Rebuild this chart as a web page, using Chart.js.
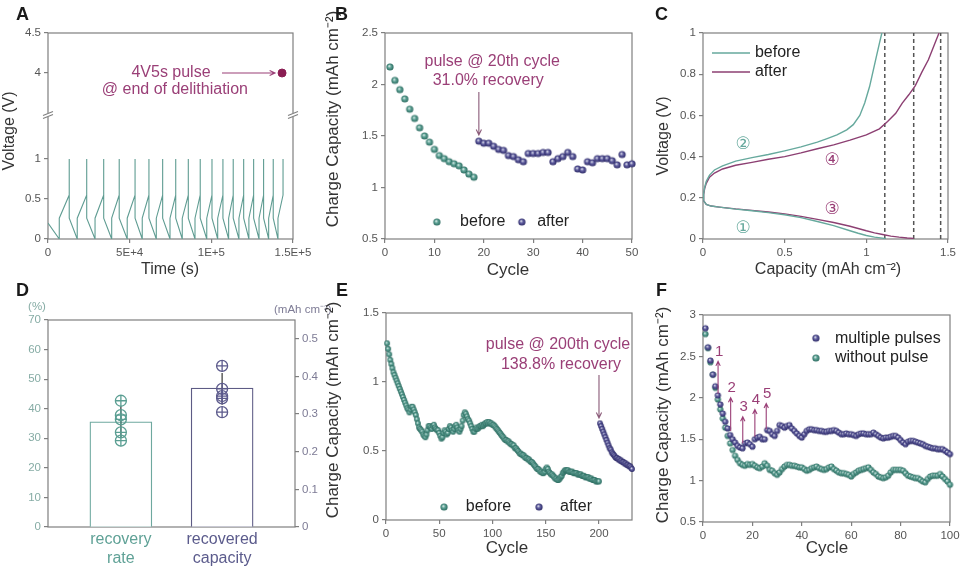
<!DOCTYPE html>
<html><head><meta charset="utf-8">
<script src="https://cdn.jsdelivr.net/npm/chart.js@4.4.1/dist/chart.umd.min.js"></script>
<style>
html,body{margin:0;padding:0;background:#fff;}
#wrap{position:relative;width:960px;height:567px;overflow:hidden;background:#fff;}
canvas{position:absolute;}
.lbl{position:absolute;font-family:'Liberation Sans Narrow','Arial Narrow','Liberation Sans',sans-serif;font-weight:bold;font-size:18px;line-height:18px;color:#1a1a1a;}
</style></head><body>
<div id="wrap">
<canvas id="cA" width="320" height="290" style="left:0;top:0"></canvas>
<canvas id="cB" width="320" height="290" style="left:320px;top:0"></canvas>
<canvas id="cC" width="320" height="290" style="left:640px;top:0"></canvas>
<canvas id="cD" width="345" height="277" style="left:0;top:290px"></canvas>
<canvas id="cE" width="320" height="277" style="left:320px;top:290px"></canvas>
<canvas id="cF" width="320" height="277" style="left:640px;top:290px"></canvas>
<div class="lbl" style="left:16px;top:5px">A</div>
<div class="lbl" style="left:335px;top:5px">B</div>
<div class="lbl" style="left:655px;top:5px">C</div>
<div class="lbl" style="left:16px;top:281px">D</div>
<div class="lbl" style="left:336px;top:281px">E</div>
<div class="lbl" style="left:656px;top:281px">F</div>
</div>
<script>
// ---------------- DATA ----------------
// Panel A: voltage trace (time s, voltage V)
const aTime = [0,
 6900,6900,13000,13000,13000,
 17900,17900,23700,23700,23700,
 28800,28800,34100,34100,34100,
 39000,39000,43600,43600,43600,
 48500,48500,53300,53300,53300,
 57700,57700,61800,61800,61800,
 66300,66300,70200,70200,70200,
 74700,74700,78200,78200,78200,
 82200,82200,85900,85900,85900,
 90000,90000,93200,93200,93200,
 97200,97200,100400,100400,100400,
 103900,103900,107100,107100,107100,
 110600,110600,113400,113400,113400,
 116900,116900,119800,119800,119800,
 123000,123000,125900,125900,125900,
 129200,129200,132000,132000,132000,
 135100,135100,137900,137900,137900,
 140800,140800,143900,143900];
const aVolt = [0.2,
 0,0.26,0.55,1,0.26,
 0,0.26,0.55,1,0.26,
 0,0.26,0.55,1,0.26,
 0,0.26,0.55,1,0.26,
 0,0.26,0.55,1,0.26,
 0,0.26,0.55,1,0.26,
 0,0.26,0.55,1,0.26,
 0,0.26,0.55,1,0.26,
 0,0.26,0.55,1,0.26,
 0,0.26,0.55,1,0.26,
 0,0.26,0.55,1,0.26,
 0,0.26,0.55,1,0.26,
 0,0.26,0.55,1,0.26,
 0,0.26,0.55,1,0.26,
 0,0.26,0.55,1,0.26,
 0,0.26,0.55,1,0.26,
 0,0.26,0.55,1,0.26,
 0,0.26,0.55,1];
const aPulseTime = 143300, aPulseVolt = 4;
const aXTicks = [0,50000,100000,150000];
const aXTickLabels = ['0','5E+4','1E+5','1.5E+5'];
const aYTicks = [0,0.5,1,4,4.5];

// Panel B: charge capacity vs cycle
const bBefore = [2.17,2.04,1.95,1.86,1.76,1.67,1.58,1.50,1.44,1.37,1.31,1.28,1.25,1.23,1.21,1.17,1.13,1.10]; // cycles 1-18
const bAfter = [1.45,1.43,1.43,1.40,1.37,1.36,1.31,1.30,1.27,1.25,
 1.33,1.33,1.33,1.34,1.34,1.25,1.28,1.30,1.34,1.30,
 1.18,1.17,1.25,1.24,1.28,1.28,1.28,1.26,1.22,1.32,
 1.22,1.23]; // cycles 19-50
const bXTicks = [0,10,20,30,40,50];
const bYTicks = [0.5,1,1.5,2,2.5];

// Panel C: voltage profiles
const cBefDelCap = [0,0.004,0.01,0.02,0.04,0.07,0.12,0.2,0.3,0.4,0.5,0.6,0.7,0.76,0.82,0.88,0.92,0.96,0.99,1.02,1.04,1.06,1.08,1.095];
const cBefDelV   = [0.19,0.22,0.25,0.28,0.31,0.335,0.355,0.378,0.395,0.41,0.428,0.447,0.47,0.487,0.505,0.53,0.555,0.6,0.66,0.74,0.81,0.88,0.95,1.0];
const cAftDelCap = [0,0.004,0.01,0.02,0.04,0.07,0.12,0.2,0.3,0.4,0.5,0.6,0.7,0.8,0.9,1.0,1.08,1.13,1.18,1.22,1.26,1.3,1.34,1.38,1.42,1.445];
const cAftDelV   = [0.19,0.215,0.245,0.27,0.30,0.32,0.34,0.358,0.372,0.387,0.40,0.418,0.438,0.457,0.48,0.505,0.535,0.57,0.61,0.66,0.70,0.745,0.81,0.87,0.95,1.0];
const cBefLitCap = [0,0.02,0.05,0.1,0.2,0.3,0.4,0.5,0.6,0.7,0.8,0.9,0.95,1.0,1.05,1.1,1.12];
const cBefLitV   = [0.19,0.168,0.16,0.155,0.145,0.137,0.128,0.118,0.104,0.085,0.065,0.04,0.028,0.017,0.009,0.004,0.002];
const cAftLitCap = [0,0.02,0.05,0.1,0.2,0.3,0.4,0.5,0.6,0.7,0.8,0.9,1.0,1.05,1.1,1.15,1.2,1.25,1.29];
const cAftLitV   = [0.19,0.168,0.16,0.155,0.146,0.139,0.131,0.122,0.11,0.095,0.08,0.062,0.04,0.03,0.022,0.014,0.009,0.005,0.003];
const cDashCap = [1.113,1.29,1.455];
const cXTicks = [0,0.5,1,1.5];
const cYTicks = [0,0.2,0.4,0.6,0.8,1];

// Panel D: bars
const dCats = [['recovery','rate'],['recovered','capacity']];
const dMeans = [35.6, 0.369];
const dErrLow = [30.2, 0.325];
const dErrHigh = [40.8, 0.409];
const dRatePts = [42.7,37.8,36.4,32.0,29.2];
const dCapPts = [0.428,0.367,0.348,0.342,0.305];
const dYTicks = [0,10,20,30,40,50,60,70];
const dY2Ticks = [0,0.1,0.2,0.3,0.4,0.5];

// Panel E
const eBefore = [
1.28,1.24,1.20,1.16,1.13,1.10,1.07,1.05,1.03,1.01,
0.99,0.97,0.95,0.93,0.91,0.89,0.87,0.85,0.83,0.81,
0.80,0.78,0.80,0.82,0.82,0.80,0.78,0.76,0.73,0.70,
0.67,0.66,0.65,0.64,0.62,0.61,0.60,0.62,0.65,0.68,
0.68,0.67,0.66,0.68,0.69,0.67,0.66,0.65,0.65,0.63,
0.61,0.59,0.60,0.63,0.65,0.64,0.62,0.63,0.66,0.68,
0.67,0.65,0.64,0.66,0.68,0.69,0.67,0.65,0.64,0.66,
0.68,0.72,0.76,0.78,0.77,0.75,0.73,0.72,0.70,0.68,
0.66,0.64,0.64,0.66,0.67,0.66,0.67,0.68,0.68,0.69,
0.68,0.69,0.70,0.70,0.71,0.70,0.71,0.70,0.70,0.69,
0.69,0.68,0.67,0.66,0.65,0.64,0.63,0.62,0.61,0.60,
0.59,0.58,0.58,0.57,0.57,0.56,0.55,0.55,0.54,0.54,
0.52,0.52,0.51,0.50,0.49,0.48,0.48,0.47,0.47,0.46,
0.45,0.45,0.44,0.44,0.43,0.42,0.42,0.41,0.40,0.39,
0.38,0.37,0.37,0.36,0.35,0.35,0.34,0.34,0.35,0.37,
0.38,0.37,0.35,0.34,0.33,0.33,0.32,0.31,0.30,0.30,
0.29,0.29,0.30,0.31,0.32,0.34,0.35,0.36,0.36,0.36,
0.36,0.35,0.35,0.35,0.35,0.34,0.34,0.34,0.34,0.33,
0.33,0.33,0.33,0.32,0.32,0.32,0.31,0.31,0.31,0.31,
0.30,0.30,0.30,0.29,0.29,0.29,0.28,0.28,0.28,0.28]; // cycles 1-200
const eAfterStart = 201;
const eAfter = [0.70,0.68,0.66,0.64,0.62,0.60,0.58,0.56,0.54,0.52,0.51,0.49,0.48,0.47,0.46,0.45,0.45,0.44,0.44,0.43,0.43,0.42,0.42,0.41,0.41,0.40,0.40,0.39,0.39,0.38,0.37];
const eXTicks = [0,50,100,150,200];
const eYTicks = [0,0.5,1,1.5];

// Panel F
const fMulti = [2.84,2.61,2.45,2.28,2.14,2.03,1.92,1.81,1.71,1.63,
1.55,1.50,1.46,1.42,1.40,1.39,1.45,1.46,1.44,1.41,
1.50,1.52,1.53,1.50,1.50,1.61,1.60,1.56,1.54,1.60,
1.67,1.66,1.64,1.66,1.67,1.63,1.60,1.57,1.54,1.52,
1.56,1.60,1.62,1.62,1.61,1.61,1.60,1.60,1.59,1.59,
1.60,1.60,1.61,1.60,1.58,1.56,1.56,1.57,1.56,1.56,
1.55,1.54,1.56,1.57,1.57,1.56,1.56,1.56,1.58,1.56,
1.54,1.52,1.51,1.52,1.52,1.53,1.54,1.54,1.52,1.49,
1.46,1.44,1.47,1.48,1.48,1.47,1.46,1.45,1.44,1.42,
1.41,1.40,1.39,1.39,1.38,1.38,1.38,1.36,1.34,1.32];
const fNone = [2.77,2.60,2.43,2.28,2.12,1.98,1.86,1.75,1.64,1.54,
1.45,1.37,1.30,1.25,1.21,1.19,1.18,1.20,1.19,1.20,
1.18,1.16,1.15,1.17,1.21,1.18,1.13,1.12,1.09,1.07,
1.10,1.14,1.17,1.19,1.19,1.18,1.18,1.17,1.16,1.16,
1.14,1.12,1.13,1.15,1.16,1.17,1.15,1.14,1.13,1.14,
1.16,1.17,1.14,1.12,1.10,1.09,1.09,1.08,1.07,1.05,
1.08,1.10,1.12,1.13,1.14,1.15,1.16,1.13,1.10,1.08,
1.05,1.04,1.03,1.04,1.06,1.10,1.13,1.13,1.13,1.13,
1.12,1.09,1.06,1.05,1.04,1.03,1.03,1.01,0.99,0.98,
1.02,1.05,1.06,1.06,1.06,1.08,1.05,1.02,0.99,0.95];
const fPulseCycles = [6.1,11.2,16.1,21,25.6];
const fPulseFrom = [2.05,1.60,1.45,1.53,1.62];
const fPulseTo = [2.44,2.00,1.77,1.86,1.93];
const fPulseLabels = ['1','2','3','4','5'];
const fXTicks = [0,20,40,60,80,100];
const fYTicks = [0.5,1,1.5,2,2.5,3];

// ---------------- STYLE / HELPERS ----------------
const FONT = "'Liberation Sans', Arial, Helvetica, sans-serif";
Chart.defaults.font.family = FONT;
Chart.defaults.animation = false;
Chart.defaults.events = [];
Chart.defaults.plugins.legend.display = false;
Chart.defaults.plugins.tooltip.enabled = false;

const AX = '#7f7f7f', TICKC = '#555', TITLEC = '#333';
const TEAL = '#5fa497', TEAL_D = '#2b6a5f', PURP = '#6461a3', PURP_D = '#2c2a66';
const MAG = '#9a3f77', LINE_TEAL = '#5f9c92', C_AFTER = '#8c3f72';
const BREAK_SHIFT = 1.925;
function toAxis(v){ return v > 2 ? v - BREAK_SHIFT : v; }

function makeBall(base, dark, r){
  const s = Math.ceil(2*r)+2, c = document.createElement('canvas');
  c.width = c.height = s;
  const g = c.getContext('2d'), m = s/2;
  const gr = g.createRadialGradient(m-r*0.25, m-r*0.3, 0, m, m, r);
  gr.addColorStop(0, '#f3f8f7'); gr.addColorStop(0.45, base); gr.addColorStop(1, dark);
  g.fillStyle = gr; g.beginPath(); g.arc(m, m, r, 0, 2*Math.PI); g.fill();
  return c;
}
const ballTealB = makeBall(TEAL, TEAL_D, 3.6), ballPurpB = makeBall(PURP, PURP_D, 3.6);
const ballTealS = makeBall(TEAL, TEAL_D, 2.9), ballPurpS = makeBall(PURP, PURP_D, 2.9);
const ballTealF = makeBall(TEAL, TEAL_D, 3.1), ballPurpF = makeBall(PURP, PURP_D, 3.1);

function fixY(w){ return s => { s.width = w; s.paddingTop = 0; s.paddingBottom = 0; }; }
function fixX(h){ return s => { s.height = h; s.paddingLeft = 0; s.paddingRight = 0; }; }
function setTicks(v){ return s => { s.ticks = v.map(x => ({value:x})); }; }
function linScale(pos, min, max, tickVals, labels, fit, extra){
  const sc = {type:'linear', position:pos, min:min, max:max,
    afterBuildTicks: setTicks(tickVals), afterFit: fit,
    border:{display:false},
    grid:{display:true, drawOnChartArea:false, drawTicks:true, tickLength:4, color:AX, tickColor:AX, lineWidth:1.2},
    ticks:{autoSkip:false, maxRotation:0, minRotation:0, padding:3, color:TICKC, font:{size:11.5},
      callback:(v,i) => labels[i]}};
  return Object.assign(sc, extra || {});
}
const frame = {id:'frame', beforeDatasetsDraw(c){
  const a = c.chartArea, x = c.ctx; x.save(); x.strokeStyle = AX; x.lineWidth = 1.2;
  x.strokeRect(a.left, a.top, a.right-a.left, a.bottom-a.top); x.restore(); }};
function T(ctx, s, x, y, font, color, align, rot){
  ctx.save(); ctx.font = font; ctx.fillStyle = color; ctx.textAlign = align || 'center'; ctx.textBaseline = 'middle';
  if (rot){ ctx.translate(x, y); ctx.rotate(rot); ctx.fillText(s, 0, 0); } else ctx.fillText(s, x, y);
  ctx.restore();
}
function arrow(ctx, x1, y1, x2, y2, col, h){
  h = h || 6; const a = Math.atan2(y2-y1, x2-x1);
  ctx.save(); ctx.strokeStyle = col; ctx.lineWidth = 1.1; ctx.beginPath();
  ctx.moveTo(x1, y1); ctx.lineTo(x2, y2);
  ctx.moveTo(x2-h*Math.cos(a-0.45), y2-h*Math.sin(a-0.45)); ctx.lineTo(x2, y2);
  ctx.lineTo(x2-h*Math.cos(a+0.45), y2-h*Math.sin(a+0.45)); ctx.stroke(); ctx.restore();
}
function ball(ctx, img, x, y){ ctx.drawImage(img, x-img.width/2, y-img.height/2); }
const F16 = '16px ' + FONT, F17 = '17px ' + FONT;
const ROT = -Math.PI/2;
const pts = (arr, start) => arr.map((v,i) => ({x:start+i, y:v}));
const xy = (xs, ys) => xs.map((v,i) => ({x:v, y:ys[i]}));

// ---------------- PANEL A ----------------
new Chart(document.getElementById('cA'), {
  type:'scatter',
  data:{datasets:[
    {data:[{x:aPulseTime, y:toAxis(aPulseVolt)}], pointRadius:4, pointBackgroundColor:'#8a1d53', pointBorderColor:'#8a1d53', clip:false},
    {data:xy(aTime, aVolt), showLine:true, borderColor:LINE_TEAL, borderWidth:1.1, pointRadius:0, tension:0}
  ]},
  options:{responsive:false, layout:{padding:{top:33, right:27, left:0, bottom:0}},
    scales:{
      x: linScale('bottom', 0, 150000, aXTicks, aXTickLabels, fixX(51)),
      y: linScale('left', 0, toAxis(4.5), aYTicks.map(toAxis), aYTicks.map(String), fixY(48))
    }},
  plugins:[frame, {id:'annA', afterDraw(c){
    const ctx = c.ctx, X = c.scales.x, Y = c.scales.y, a = c.chartArea;
    T(ctx, 'Voltage (V)', 10, 131, F16, TITLEC, 'center', ROT);
    T(ctx, 'Time (s)', 170, 270, F16, TITLEC);
    const y4 = Y.getPixelForValue(toAxis(4));
    T(ctx, '4V5s pulse', X.getPixelForValue(75300), y4, F16, MAG);
    T(ctx, '@ end of delithiation', X.getPixelForValue(77700), Y.getPixelForValue(toAxis(3.79)), F16, MAG);
    arrow(ctx, X.getPixelForValue(106500), y4, X.getPixelForValue(139000), y4, MAG, 6);
    const yb = Y.getPixelForValue(1.55);
    [a.left, a.right].forEach(x0 => {
      ctx.save(); ctx.fillStyle = '#fff'; ctx.fillRect(x0-3, yb-2, 6, 4);
      ctx.strokeStyle = AX; ctx.lineWidth = 1.1; ctx.beginPath();
      ctx.moveTo(x0-5, yb+0.5); ctx.lineTo(x0+5, yb-3.5);
      ctx.moveTo(x0-5, yb+3.5); ctx.lineTo(x0+5, yb-0.5); ctx.stroke(); ctx.restore();
    });
  }}]
});

// ---------------- PANEL B ----------------
new Chart(document.getElementById('cB'), {
  type:'scatter',
  data:{datasets:[
    {data:pts(bBefore, 1), pointStyle:ballTealB, pointRadius:3.6, clip:false},
    {data:pts(bAfter, 19), pointStyle:ballPurpB, pointRadius:3.6, clip:false}
  ]},
  options:{responsive:false, layout:{padding:{top:33, right:8, left:0, bottom:0}},
    scales:{
      x: linScale('bottom', 0, 50, bXTicks, bXTicks.map(String), fixX(51)),
      y: linScale('left', 0.5, 2.5, bYTicks, bYTicks.map(String), fixY(65))
    }},
  plugins:[frame, {id:'annB', afterDraw(c){
    const ctx = c.ctx, X = c.scales.x, Y = c.scales.y;
    T(ctx, 'Charge Capacity (mAh cm\u207B\u00B2)', 13, 119, F17, TITLEC, 'center', ROT);
    T(ctx, 'Cycle', 188, 270, F17, TITLEC);
    T(ctx, 'pulse @ 20th cycle', X.getPixelForValue(21.7), Y.getPixelForValue(2.218), F16, MAG);
    T(ctx, '31.0% recovery', X.getPixelForValue(20.9), Y.getPixelForValue(2.034), F16, MAG);
    arrow(ctx, X.getPixelForValue(19), Y.getPixelForValue(1.927), X.getPixelForValue(19), Y.getPixelForValue(1.51), '#8a5a78', 6);
    const ly = Y.getPixelForValue(0.665);
    ball(ctx, ballTealB, X.getPixelForValue(10.5), ly);
    T(ctx, 'before', X.getPixelForValue(15.2), ly, F16, '#222', 'left');
    ball(ctx, ballPurpB, X.getPixelForValue(27.7), ly);
    T(ctx, 'after', X.getPixelForValue(30.8), ly, F16, '#222', 'left');
  }}]
});

// ---------------- PANEL C ----------------
new Chart(document.getElementById('cC'), {
  type:'scatter',
  data:{datasets:[
    {data:xy(cBefDelCap, cBefDelV), showLine:true, borderColor:'#66a99d', borderWidth:1.4, pointRadius:0},
    {data:xy(cAftDelCap, cAftDelV), showLine:true, borderColor:C_AFTER, borderWidth:1.4, pointRadius:0},
    {data:xy(cBefLitCap, cBefLitV), showLine:true, borderColor:'#66a99d', borderWidth:1.4, pointRadius:0},
    {data:xy(cAftLitCap, cAftLitV), showLine:true, borderColor:C_AFTER, borderWidth:1.4, pointRadius:0},
    ...cDashCap.map(v => ({data:[{x:v, y:0},{x:v, y:1}], showLine:true, borderColor:'#555', borderWidth:1.5, borderDash:[4,3], pointRadius:0}))
  ]},
  options:{responsive:false, layout:{padding:{top:33, right:12, left:0, bottom:0}},
    scales:{
      x: linScale('bottom', 0, 1.5, cXTicks, cXTicks.map(String), fixX(51)),
      y: linScale('left', 0, 1, cYTicks, cYTicks.map(String), fixY(63))
    }},
  plugins:[frame, {id:'annC', afterDraw(c){
    const ctx = c.ctx, X = c.scales.x, Y = c.scales.y;
    T(ctx, 'Voltage (V)', 24, 136, F16, TITLEC, 'center', ROT);
    T(ctx, 'Capacity (mAh cm\u207B\u00B2)', 188, 270, F16, TITLEC);
    const items = [[0.903, '#66a99d', 'before'], [0.811, C_AFTER, 'after']];
    items.forEach(([yv, col, s]) => {
      const y = Y.getPixelForValue(yv);
      ctx.save(); ctx.strokeStyle = col; ctx.lineWidth = 1.4; ctx.beginPath();
      ctx.moveTo(X.getPixelForValue(0.055), y); ctx.lineTo(X.getPixelForValue(0.288), y); ctx.stroke(); ctx.restore();
      T(ctx, s, X.getPixelForValue(0.318), y, F16, '#222', 'left');
    });
    const F = '17px ' + "'DejaVu Sans', " + FONT;
    T(ctx, '\u2461', X.getPixelForValue(0.245), Y.getPixelForValue(0.456), F, '#66a99d');
    T(ctx, '\u2463', X.getPixelForValue(0.79), Y.getPixelForValue(0.383), F, MAG);
    T(ctx, '\u2462', X.getPixelForValue(0.79), Y.getPixelForValue(0.141), F, MAG);
    T(ctx, '\u2460', X.getPixelForValue(0.245), Y.getPixelForValue(0.053), F, '#66a99d');
  }}]
});

// ---------------- PANEL D ----------------
const D_TEAL = '#5a9e92', D_PURP = '#5c5a8c';
new Chart(document.getElementById('cD'), {
  type:'bar',
  data:{datasets:[
    {type:'scatter', data:dRatePts.map(v => ({x:0, y:v})), yAxisID:'y', pointStyle:'circle', pointRadius:5.5, borderColor:D_TEAL, backgroundColor:'rgba(0,0,0,0)', borderWidth:1.3, clip:false},
    {type:'scatter', data:dRatePts.map(v => ({x:0, y:v})), yAxisID:'y', pointStyle:'cross', pointRadius:5.5, borderColor:D_TEAL, borderWidth:1.3, clip:false},
    {type:'scatter', data:dCapPts.map(v => ({x:1, y:v})), yAxisID:'yR', pointStyle:'circle', pointRadius:5.5, borderColor:D_PURP, backgroundColor:'rgba(0,0,0,0)', borderWidth:1.3, clip:false},
    {type:'scatter', data:dCapPts.map(v => ({x:1, y:v})), yAxisID:'yR', pointStyle:'cross', pointRadius:5.5, borderColor:D_PURP, borderWidth:1.3, clip:false},
    {type:'line', data:[{x:0, y:dErrLow[0]},{x:0, y:dErrHigh[0]}], yAxisID:'y', borderColor:'#333', borderWidth:1.2, pointRadius:0},
    {type:'line', data:[{x:1, y:dErrLow[1]},{x:1, y:dErrHigh[1]}], yAxisID:'yR', borderColor:'#333', borderWidth:1.2, pointRadius:0},
    {type:'bar', data:[{x:0, y:dMeans[0]}], yAxisID:'y', backgroundColor:'#fff', borderColor:'#6ea89f', borderWidth:1.3, barThickness:62, grouped:false},
    {type:'bar', data:[{x:1, y:dMeans[1]}], yAxisID:'yR', backgroundColor:'#fff', borderColor:'#5d5b85', borderWidth:1.3, barThickness:62, grouped:false}
  ]},
  options:{responsive:false, layout:{padding:{top:30, right:0, left:0, bottom:0}},
    scales:{
      x: linScale('bottom', -0.72, 1.72, [0,1], dCats, fixX(40), {
        offset:false,
        grid:{display:false, drawTicks:false},
        ticks:{autoSkip:false, maxRotation:0, minRotation:0, padding:3, font:{size:16},
          color:(ctx) => ctx.index === 0 ? '#5fa196' : '#5b5b8c', callback:(v,i) => dCats[i]}}),
      y: linScale('left', 0, 70, dYTicks, dYTicks.map(String), fixY(48), {}),
      yR: linScale('right', 0, 0.55, dY2Ticks, dY2Ticks.map(String), fixY(50), {})
    }},
  plugins:[frame, {id:'annD', afterDraw(c){
    const ctx = c.ctx;
    T(ctx, '(%)', 37, 17, '11.5px ' + FONT, '#86aca5');
    T(ctx, '(mAh cm\u207B\u00B2)', 274, 20, '11.5px ' + FONT, '#7d7b95', 'left');
  }}]
});
</script>
<script>
// colour the D tick labels after creation (left teal-grey, right purple-grey)
(function(){
  const ch = Chart.getChart('cD');
  ch.options.scales.y.ticks.color = '#86aca5';
  ch.options.scales.yR.ticks.color = '#7d7b95';
  ch.update('none');
})();

// ---------------- PANEL E ----------------
new Chart(document.getElementById('cE'), {
  type:'scatter',
  data:{datasets:[
    {data:pts(eAfter, eAfterStart), pointStyle:ballPurpS, pointRadius:2.9, clip:false},
    {data:pts(eBefore, 1), pointStyle:ballTealS, pointRadius:2.9, clip:false}
  ]},
  options:{responsive:false, layout:{padding:{top:23, right:8, left:0, bottom:0}},
    scales:{
      x: linScale('bottom', 0, 231, eXTicks, eXTicks.map(String), fixX(47)),
      y: linScale('left', 0, 1.5, eYTicks, eYTicks.map(String), fixY(66))
    }},
  plugins:[frame, {id:'annE', afterDraw(c){
    const ctx = c.ctx, X = c.scales.x, Y = c.scales.y;
    T(ctx, 'Charge Capacity (mAh cm\u207B\u00B2)', 13, 120, F17, TITLEC, 'center', ROT);
    T(ctx, 'Cycle', 187, 258, F17, TITLEC);
    T(ctx, 'pulse @ 200th cycle', X.getPixelForValue(161.5), Y.getPixelForValue(1.268), F16, MAG);
    T(ctx, '138.8% recovery', X.getPixelForValue(164.3), Y.getPixelForValue(1.123), F16, MAG);
    arrow(ctx, X.getPixelForValue(200), Y.getPixelForValue(1.05), X.getPixelForValue(200), Y.getPixelForValue(0.74), '#8a5a78', 6);
    const ly = Y.getPixelForValue(0.094);
    ball(ctx, ballTealB, X.getPixelForValue(54.5), ly);
    T(ctx, 'before', X.getPixelForValue(75), ly, F16, '#222', 'left');
    ball(ctx, ballPurpB, X.getPixelForValue(143.7), ly);
    T(ctx, 'after', X.getPixelForValue(163.4), ly, F16, '#222', 'left');
  }}]
});

// ---------------- PANEL F ----------------
new Chart(document.getElementById('cF'), {
  type:'scatter',
  data:{datasets:[
    {data:pts(fMulti, 1), pointStyle:ballPurpF, pointRadius:3.1, clip:false},
    {data:pts(fNone, 1), pointStyle:ballTealF, pointRadius:3.1, clip:false}
  ]},
  options:{responsive:false, layout:{padding:{top:25, right:10, left:0, bottom:0}},
    scales:{
      x: linScale('bottom', 0, 100, fXTicks, fXTicks.map(String), fixX(45)),
      y: linScale('left', 0.5, 3, fYTicks, fYTicks.map(String), fixY(63))
    }},
  plugins:[frame, {id:'annF', afterDraw(c){
    const ctx = c.ctx, X = c.scales.x, Y = c.scales.y;
    T(ctx, 'Charge Capacity (mAh cm\u207B\u00B2)', 23, 125, F17, TITLEC, 'center', ROT);
    T(ctx, 'Cycle', 187, 258, F17, TITLEC);
    fPulseCycles.forEach((cy, i) => {
      const x = X.getPixelForValue(cy);
      arrow(ctx, x, Y.getPixelForValue(fPulseFrom[i]), x, Y.getPixelForValue(fPulseTo[i]), MAG, 5);
      T(ctx, fPulseLabels[i], x + 1, Y.getPixelForValue(fPulseTo[i]) - 10, '15px ' + FONT, MAG);
    });
    const y1 = Y.getPixelForValue(2.72), y2 = Y.getPixelForValue(2.48);
    ball(ctx, ballPurpB, X.getPixelForValue(45.7), y1);
    T(ctx, 'multiple pulses', X.getPixelForValue(53.4), y1, F16, '#222', 'left');
    ball(ctx, ballTealB, X.getPixelForValue(45.7), y2);
    T(ctx, 'without pulse', X.getPixelForValue(53.4), y2, F16, '#222', 'left');
  }}]
});
</script>
</body></html>
